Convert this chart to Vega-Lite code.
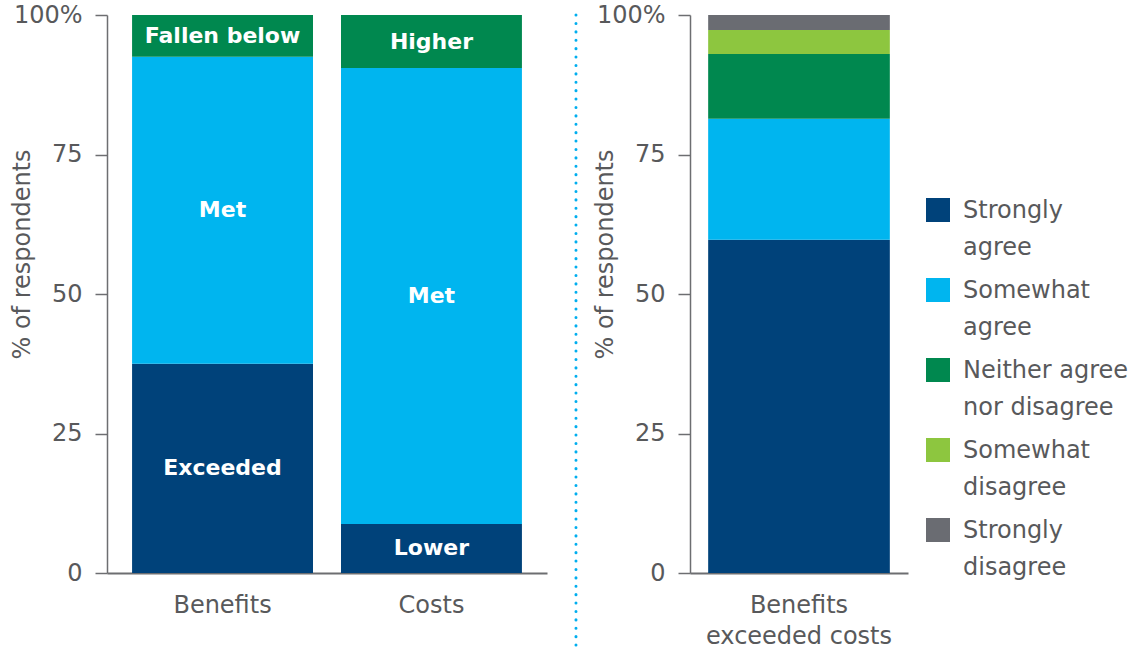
{
  "$schema": "https://vega.github.io/schema/vega-lite/v6.json",
  "padding": {"left": 10, "top": 3, "right": 0, "bottom": 0},
  "spacing": 0,
  "resolve": {"scale": {"color": "independent", "y": "independent", "x": "independent"}},
  "config": {
    "font": "DejaVu Sans",
    "view": {"stroke": null},
    "style": {"guide-label": {"lineHeight": 37, "dy": 8}},
    "axis": {
      "labelFont": "DejaVu Sans",
      "titleFont": "DejaVu Sans",
      "labelFontSize": 24,
      "titleFontSize": 24,
      "titleFontWeight": "normal",
      "labelColor": "#58595b",
      "titleColor": "#58595b",
      "domainColor": "#6d6e71",
      "tickColor": "#6d6e71",
      "grid": false
    },
    "legend": {"labelFont": "DejaVu Sans"}
  },
  "hconcat": [
    {
      "width": 440,
      "height": 558,
      "data": {"values": [
        {"item": "Benefits", "part": "Exceeded", "value": 37.5, "order": 1},
        {"item": "Benefits", "part": "Met", "value": 55.0, "order": 2},
        {"item": "Benefits", "part": "Fallen below", "value": 7.5, "order": 3},
        {"item": "Costs", "part": "Lower", "value": 8.8, "order": 1},
        {"item": "Costs", "part": "Met", "value": 81.7, "order": 2},
        {"item": "Costs", "part": "Higher", "value": 9.5, "order": 3}
      ]},
      "encoding": {
        "x": {"field": "item", "type": "nominal", "sort": ["Benefits", "Costs"],
              "scale": {"paddingInner": 0.134, "paddingOuter": 0.12},
              "axis": {"title": null, "ticks": false, "labelAngle": 0, "labelPadding": 12, "labelLimit": 0, "labelLineHeight": 31, "domainWidth": 2}},
        "y": {"field": "value", "type": "quantitative", "stack": "zero",
              "scale": {"domain": [0, 100], "nice": false},
              "axis": {"values": [0, 25, 50, 75, 100], "tickSize": 12, "labelPadding": 13, "labelOffset": -8, "domainWidth": 1.5, "tickWidth": 1.5,
                       "labelExpr": "datum.value == 100 ? '100%' : datum.label",
                       "title": "% of respondents", "titleAngle": -90, "titleX": -85, "titleY": 239,
                       "titleBaseline": "middle", "titleAlign": "center"}},
        "order": {"field": "order", "type": "quantitative"}
      },
      "layer": [
        {
          "mark": {"type": "bar"},
          "encoding": {
            "color": {"field": "part", "type": "nominal",
                      "scale": {"domain": ["Exceeded", "Met", "Fallen below", "Lower", "Higher"],
                                "range": ["#00427a", "#00b5ef", "#00884f", "#00427a", "#00884f"]},
                      "legend": null}
          }
        },
        {
          "mark": {"type": "text", "color": "white", "fontWeight": "bold", "fontSize": 22, "font": "DejaVu Sans"},
          "encoding": {
            "y": {"field": "value", "type": "quantitative", "stack": "zero", "bandPosition": 0.5},
            "text": {"field": "part", "type": "nominal"},
            "detail": {"field": "part", "type": "nominal"}
          }
        }
      ]
    },
    {
      "width": 46,
      "height": 648,
      "data": {"values": [{"pos": 0.63}]},
      "mark": {"type": "rule", "color": "#00aeef", "strokeWidth": 3, "strokeDash": [0.1, 8.3], "strokeCap": "round"},
      "encoding": {
        "x": {"field": "pos", "type": "quantitative", "scale": {"domain": [0, 1]}, "axis": null}
      }
    },
    {
      "width": 218,
      "height": 558,
      "data": {"values": [
        {"item": "Benefits exceeded costs", "response": "Strongly agree", "value": 59.7, "order": 1},
        {"item": "Benefits exceeded costs", "response": "Somewhat agree", "value": 21.7, "order": 2},
        {"item": "Benefits exceeded costs", "response": "Neither agree nor disagree", "value": 11.6, "order": 3},
        {"item": "Benefits exceeded costs", "response": "Somewhat disagree", "value": 4.3, "order": 4},
        {"item": "Benefits exceeded costs", "response": "Strongly disagree", "value": 2.7, "order": 5}
      ]},
      "mark": {"type": "bar"},
      "encoding": {
        "x": {"field": "item", "type": "nominal",
              "scale": {"paddingInner": 0, "paddingOuter": 0.1},
              "axis": {"title": null, "ticks": false, "labelAngle": 0, "labelPadding": 12, "labelLimit": 0, "domainWidth": 2, "labelLineHeight": 31,
                       "labelExpr": "['Benefits', 'exceeded costs']"}},
        "y": {"field": "value", "type": "quantitative", "stack": "zero",
              "scale": {"domain": [0, 100], "nice": false},
              "axis": {"values": [0, 25, 50, 75, 100], "tickSize": 12, "labelPadding": 13, "labelOffset": -8, "domainWidth": 1.5, "tickWidth": 1.5,
                       "labelExpr": "datum.value == 100 ? '100%' : datum.label",
                       "title": "% of respondents", "titleAngle": -90, "titleX": -85, "titleY": 239,
                       "titleBaseline": "middle", "titleAlign": "center"}},
        "order": {"field": "order", "type": "quantitative"},
        "color": {"field": "response", "type": "nominal",
                  "scale": {"domain": ["Strongly agree", "Somewhat agree", "Neither agree nor disagree", "Somewhat disagree", "Strongly disagree"],
                            "range": ["#00427a", "#00b5ef", "#00884f", "#8dc63f", "#6a6c72"]},
                  "legend": {"title": null, "orient": "none", "legendX": 236, "legendY": 183,
                             "symbolType": "square", "symbolSize": 576, "symbolStrokeWidth": 0, "symbolOpacity": 1,
                             "labelFontSize": 24, "labelColor": "#58595b", "labelLimit": 0, "labelOffset": 13,
                             "labelBaseline": "alphabetic", "rowPadding": 18, "padding": 0,
                             "labelExpr": "datum.label == 'Strongly agree' ? ['Strongly', 'agree'] : datum.label == 'Somewhat agree' ? ['Somewhat', 'agree'] : datum.label == 'Neither agree nor disagree' ? ['Neither agree', 'nor disagree'] : datum.label == 'Somewhat disagree' ? ['Somewhat', 'disagree'] : ['Strongly', 'disagree']"}}
      }
    }
  ]
}
